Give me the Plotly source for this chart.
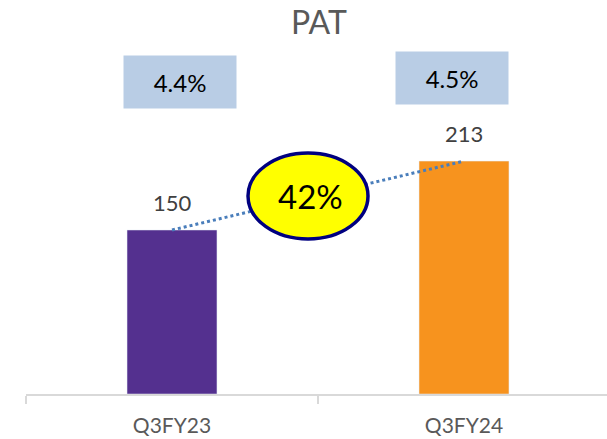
import plotly.graph_objects as go

categories = ["Q3FY23", "Q3FY24"]
pat = [150, 213]
margin_labels = ["4.4%", "4.5%"]
bar_colors = ["#54308f", "#f7931e"]
title = "PAT"

growth = round((pat[1] - pat[0]) / pat[0] * 100)

W, H = 607, 439
L, R, T, B = 26, 0, 30, 45
PW, PH = W - L - R, H - T - B
FONT = "Lato"


def px(x):
    return (x - L) / PW


def py(y):
    return (H - B - y) / PH


fig = go.Figure()
fig.add_trace(go.Bar(
    x=categories, y=pat, marker_color=bar_colors, width=0.308,
    hoverinfo="skip", showlegend=False,
))
fig.add_trace(go.Scatter(
    x=categories, y=pat, mode="lines",
    line=dict(color="#4a7ebb", width=3, dash="dot"),
    hoverinfo="skip", showlegend=False,
))

annotations = []
for c, v in zip(categories, pat):
    annotations.append(dict(
        x=c, y=v, xref="x", yref="y", text=str(v), showarrow=False,
        yanchor="bottom", yshift=12, font=dict(family=FONT, size=22, color="#404040"),
    ))

box_centers = [(180, 82), (452, 78)]
for (bx, by), t in zip(box_centers, margin_labels):
    annotations.append(dict(
        x=px(bx), y=py(by), xref="paper", yref="paper", text=t, showarrow=False,
        xanchor="center", yanchor="middle", width=112, height=52, borderpad=0,
        bgcolor="#b9cde5", font=dict(family=FONT, size=24, color="#000000"),
    ))

annotations.append(dict(
    x=px(310), y=py(196), xref="paper", yref="paper", text=f"{growth}%",
    showarrow=False, xanchor="center", yanchor="middle",
    font=dict(family=FONT, size=33, color="#000000"),
))
annotations.append(dict(
    x=px(319), y=py(21), xref="paper", yref="paper", text=title,
    showarrow=False, xanchor="center", yanchor="middle",
    font=dict(family=FONT, size=32, color="#595959"),
))

shapes = [dict(
    type="circle", xref="paper", yref="paper",
    x0=px(248), x1=px(368), y0=py(239), y1=py(153),
    fillcolor="#ffff00", line=dict(color="#000080", width=3.5), layer="above",
)]

fig.update_layout(
    width=W, height=H,
    margin=dict(l=L, r=R, t=T, b=B),
    paper_bgcolor="white", plot_bgcolor="white",
    showlegend=False,
    annotations=annotations,
    shapes=shapes,
    xaxis=dict(
        type="category", range=[-0.5, -0.5 + PW / 292],
        tickson="boundaries", ticks="outside", ticklen=8, tickwidth=2,
        tickcolor="#d9d9d9", showline=True, linecolor="#d9d9d9", linewidth=2,
        showgrid=False, zeroline=False, ticklabelstandoff=12,
        tickfont=dict(family=FONT, size=21, color="#595959"),
    ),
    yaxis=dict(
        range=[0, PH / (164 / 150)], visible=False, showgrid=False, zeroline=False,
    ),
)

fig.write_html(
    "out.html",
    config={"displayModeBar": False},
    post_script="document.body.style.margin='0';document.body.style.overflow='hidden';",
)
